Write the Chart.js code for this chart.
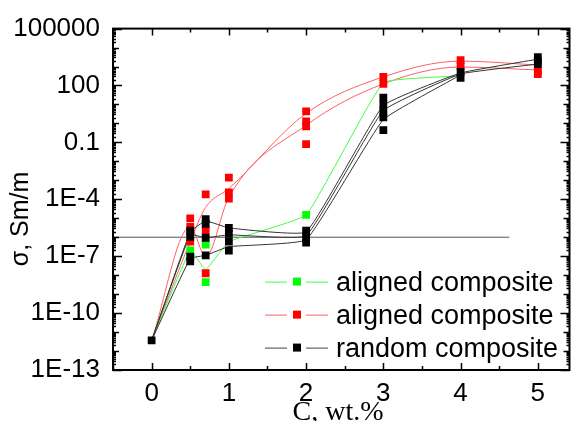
<!DOCTYPE html>
<html>
<head>
<meta charset="utf-8">
<script src="https://cdn.jsdelivr.net/npm/chart.js@4.4.1/dist/chart.umd.min.js"></script>
<style>
  html, body { margin: 0; padding: 0; background: #fff; }
  #wrap { width: 575px; height: 421px; }
</style>
</head>
<body>
<div id="wrap"><canvas id="chart" width="575" height="421"></canvas></div>
<script>
// x positions (C, wt.%)
const xLine = [0, 0.5, 0.7, 1, 2, 3, 4, 5];

// curves
const greenLine = [3.6e-12, 2.0e-7, 2.0e-8, 5.8e-7, 1.5e-5, 138, 320];
const redLine1 = [3.6e-12, 5.8e-7, 3.8e-5, 3.7e-4, 3.4, 284, 1930, 1200];
const redLine2 = [3.6e-12, 3.5e-6, 9.6e-8, 1.3e-4, 0.8, 122, 940, 656];
const blackLine1 = [3.6e-12, 1.9e-6, 7.2e-6, 3.1e-6, 1.9e-6, 8.8, 458, 2450];
const blackLine2 = [3.6e-12, 1.34e-6, 9.4e-7, 1.34e-6, 1.2e-6, 4.8, 406, 1350];
const blackLine3 = [3.6e-12, 7.6e-8, 1.1e-7, 3.2e-7, 7.4e-7, 1.6, 360];

// measured points
const greenPtsX = [0.5, 0.7, 0.7, 2];
const greenPtsY = [2.0e-7, 4.1e-7, 4.3e-9, 1.5e-5];
const redPtsX = [0.5, 0.5, 0.5, 0.5, 0.7, 0.7, 0.7, 1, 1, 1, 2, 2, 2, 2, 3, 3, 4, 4, 5, 5];
const redPtsY = [1.0e-5, 3.5e-6, 1.9e-6, 5.8e-7, 1.8e-4, 2.4e-6, 1.26e-8, 1.4e-3, 2.3e-4, 1.1e-4,
                 4.3, 1.3, 0.71, 0.082, 284, 122, 2170, 1060, 600, 400];
const blackPtsX = [0, 0.5, 0.5, 0.5, 0.5, 0.7, 0.7, 0.7, 0.7, 1, 1, 1, 1, 2, 2, 2,
                   3, 3, 3, 3, 3, 4, 4, 5, 5, 5];
const blackPtsY = [3.6e-12, 2.2e-6, 1.06e-6, 9.6e-8, 5.3e-8, 9.1e-6, 5.0e-6, 9.4e-7, 1.1e-7,
                   3.1e-6, 1.5e-6, 5.8e-7, 2.0e-7, 2.2e-6, 9.4e-7, 5.2e-7,
                   23, 9.9, 4.3, 2.1, 0.44, 516, 252, 3100, 1900, 1350];

// horizontal reference line
const hLineX = [-0.5, 4.63];
const hLineY = [1e-6, 1e-6];

// axis ticks
const xTicks = [0, 1, 2, 3, 4, 5];
const yTickValues = [1e-13, 1e-10, 1e-7, 1e-4, 0.1, 100, 100000];
const yTickLabels = ["1E-13", "1E-10", "1E-7", "1E-4", "0.1", "100", "100000"];

const legendItems = [
  { text: "aligned composite", line: "#40ff40", mark: "#00ff00" },
  { text: "aligned composite", line: "#ff6060", mark: "#ff0000" },
  { text: "random composite", line: "#444444", mark: "#000000" },
];

const pts = (xs, ys) => ys.map((y, i) => ({ x: xs[i], y: y }));

function curve(xs, ys, color, order, smooth) {
  return {
    data: pts(xs, ys),
    showLine: true,
    borderColor: color,
    borderWidth: 1,
    pointRadius: 0,
    tension: smooth ? 0.4 : 0.1,
    cubicInterpolationMode: smooth ? "monotone" : "default",
    order: order,
  };
}

function marks(xs, ys, color, order) {
  return {
    data: pts(xs, ys),
    showLine: false,
    pointStyle: "rect",
    pointRadius: 5.5,
    pointBackgroundColor: color,
    pointBorderColor: color,
    pointBorderWidth: 0,
    order: order,
  };
}

const SANS = "'Liberation Sans', Arial, sans-serif";

const framePlugin = {
  id: "frame",
  afterDraw(chart) {
    const ctx = chart.ctx;
    const a = chart.chartArea;
    const xs = chart.scales.x;
    const ys = chart.scales.y;
    ctx.save();
    ctx.strokeStyle = "#000";
    ctx.lineWidth = 2;
    ctx.strokeRect(a.left, a.top, a.right - a.left, a.bottom - a.top);

    // inward ticks, x
    ctx.lineWidth = 1.5;
    ctx.beginPath();
    for (let v = -0.5; v <= 5.41; v += 0.5) {
      const px = Math.round(xs.getPixelForValue(v)) + 0.5;
      const len = Number.isInteger(v) ? 7 : 4;
      ctx.moveTo(px, a.bottom); ctx.lineTo(px, a.bottom - len);
      ctx.moveTo(px, a.top); ctx.lineTo(px, a.top + len);
    }
    // inward ticks, y (log)
    for (let e = -13; e <= 5; e++) {
      for (let m = 1; m <= 9; m++) {
        const v = m * Math.pow(10, e);
        if (v > 1e5 * 1.0001) break;
        const py = Math.round(ys.getPixelForValue(v)) + 0.5;
        let len = 3;
        if (m === 1) len = (e + 13) % 3 === 0 ? 9 : 6;
        ctx.moveTo(a.left, py); ctx.lineTo(a.left + len, py);
        ctx.moveTo(a.right, py); ctx.lineTo(a.right - len, py);
      }
    }
    ctx.stroke();

    // legend
    ctx.font = "27px " + SANS;
    ctx.textBaseline = "middle";
    ctx.textAlign = "left";
    legendItems.forEach((it, i) => {
      const y = a.top + 253 + i * 33;
      const x0 = a.left + 152;
      ctx.strokeStyle = it.line;
      ctx.lineWidth = 1;
      ctx.beginPath();
      ctx.moveTo(x0, y + 0.5); ctx.lineTo(x0 + 22, y + 0.5);
      ctx.moveTo(x0 + 41, y + 0.5); ctx.lineTo(x0 + 63, y + 0.5);
      ctx.stroke();
      ctx.fillStyle = it.mark;
      ctx.fillRect(x0 + 28, y - 4, 8, 8);
      ctx.fillStyle = "#000";
      ctx.fillText(it.text, x0 + 71, y + 2);
    });

    // axis titles
    ctx.fillStyle = "#000";
    ctx.font = "28px 'Liberation Serif', 'Times New Roman', serif";
    ctx.textAlign = "center";
    ctx.textBaseline = "alphabetic";
    ctx.fillText("C, wt.%", 338, 420);

    ctx.save();
    ctx.translate(28, 219);
    ctx.rotate(-Math.PI / 2);
    ctx.font = "25px " + SANS;
    ctx.fillText("σ, Sm/m", 0, 0);
    ctx.restore();
    ctx.restore();
  },
};

new Chart(document.getElementById("chart"), {
  type: "scatter",
  data: {
    datasets: [
      {
        data: pts(hLineX, hLineY),
        showLine: true,
        borderColor: "#555",
        borderWidth: 1,
        pointRadius: 0,
        order: 20,
      },
      curve(xLine, greenLine, "#40ff40", 12, false),
      curve(xLine, redLine1, "#ff6060", 13, true),
      curve(xLine, redLine2, "#ff6060", 13, true),
      curve(xLine, blackLine1, "#333333", 11, false),
      curve(xLine, blackLine2, "#333333", 11, false),
      curve(xLine, blackLine3, "#333333", 11, false),
      marks(redPtsX, redPtsY, "#ff0000", 3),
      marks(greenPtsX, greenPtsY, "#00ff00", 2),
      marks(blackPtsX, blackPtsY, "#000000", 1),
    ],
  },
  options: {
    responsive: false,
    animation: false,
    layout: { padding: { top: 24, right: 1, left: 0, bottom: 0 } },
    plugins: {
      legend: { display: false },
      tooltip: { enabled: false },
    },
    scales: {
      x: {
        type: "linear",
        min: -0.5,
        max: 5.41,
        afterBuildTicks: (s) => { s.ticks = xTicks.map((v) => ({ value: v })); },
        afterFit: (s) => { s.height = 51; },
        grid: { display: false, drawTicks: false },
        border: { display: false },
        ticks: {
          padding: 8,
          color: "#000",
          font: { family: SANS, size: 26 },
          callback: (v) => String(v),
        },
      },
      y: {
        type: "logarithmic",
        min: 1e-13,
        max: 1e5,
        afterBuildTicks: (s) => { s.ticks = yTickValues.map((v) => ({ value: v })); },
        afterFit: (s) => { s.width = 113; },
        grid: { display: false, drawTicks: false },
        border: { display: false },
        ticks: {
          padding: 13,
          color: "#000",
          font: { family: SANS, size: 26 },
          callback: (v) => {
            const i = yTickValues.findIndex((t) => Math.abs(Math.log10(t) - Math.log10(v)) < 1e-6);
            return i >= 0 ? yTickLabels[i] : "";
          },
        },
      },
    },
  },
  plugins: [framePlugin],
});
</script>
</body>
</html>
